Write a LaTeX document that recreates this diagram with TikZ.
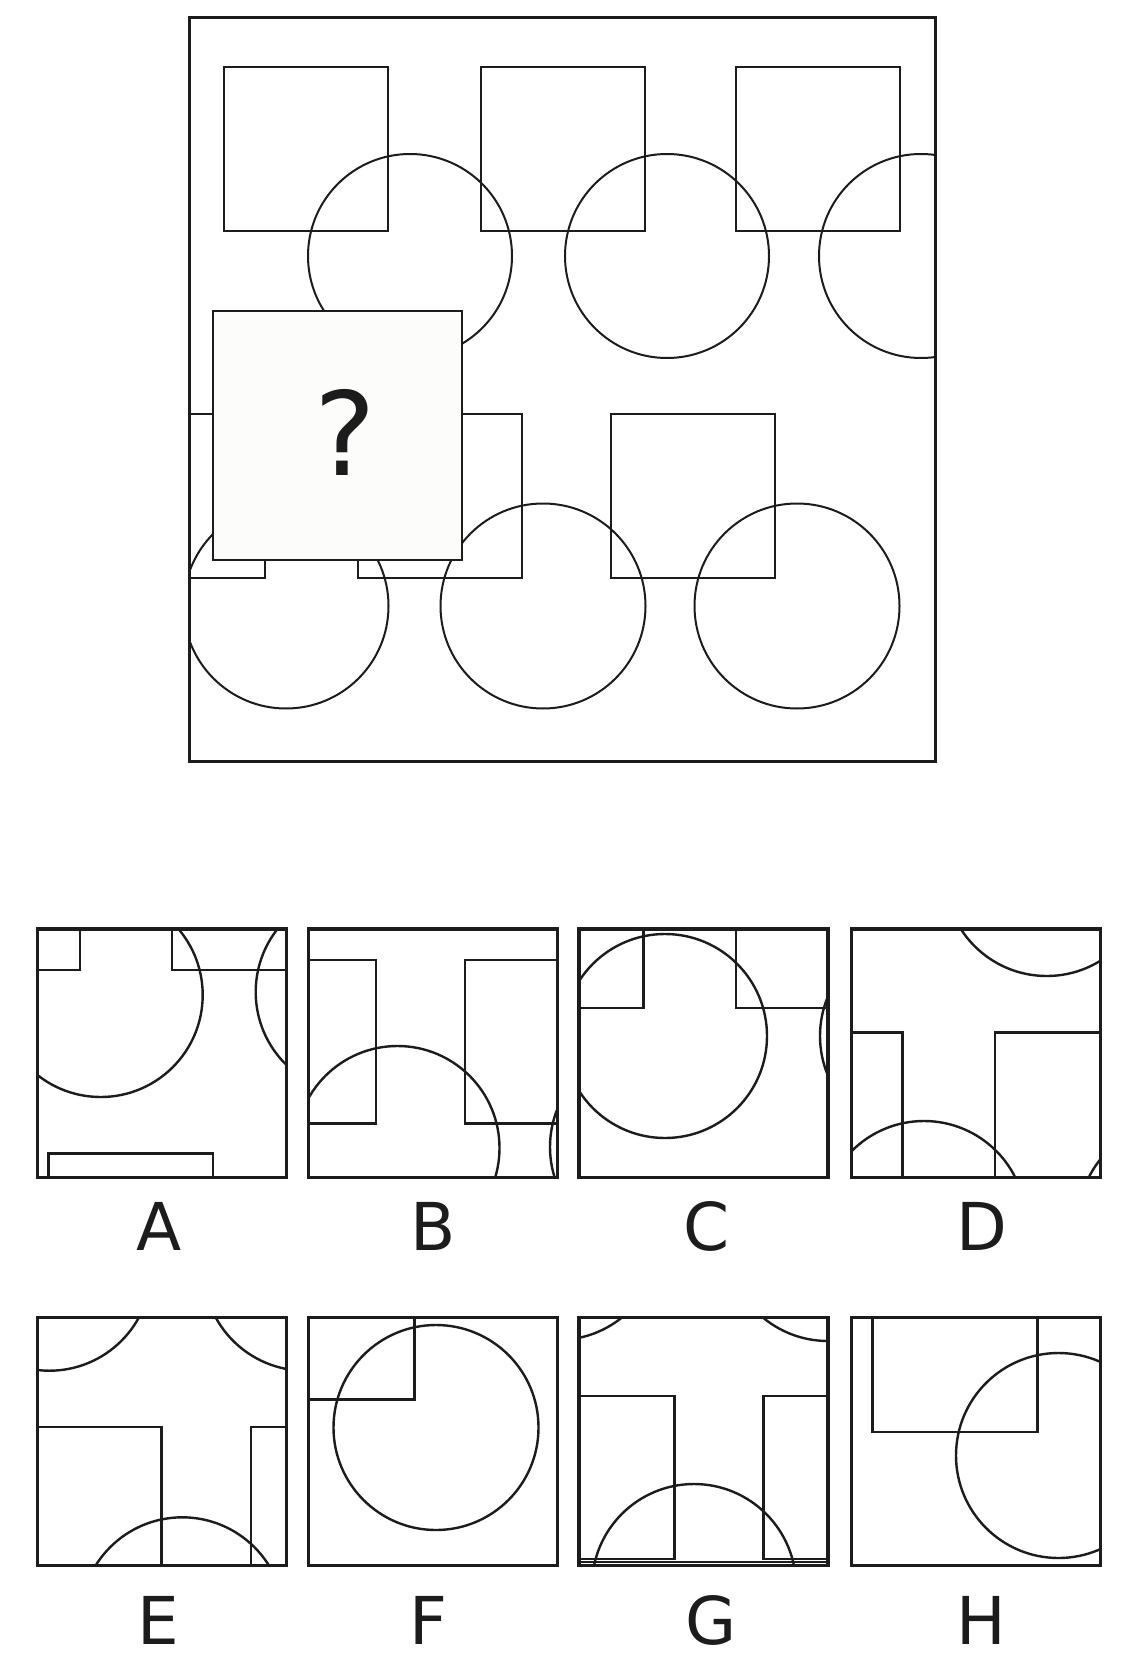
\documentclass[tikz,border=0pt]{standalone}
\usepackage{fontspec}
\setmainfont{DejaVu Sans}
\usetikzlibrary{positioning}
\definecolor{pzInk}{HTML}{1C1C1C}
\definecolor{pzCard}{HTML}{FCFCFA}
\tikzset{
  outerframe/.style = {pzInk, line width=1.5pt},
  optframe/.style   = {pzInk, line width=1.6pt},
  fig/.style        = {pzInk, line width=1pt},
  optfig/.style     = {pzInk, line width=1.2pt},
  qcard/.style      = {draw=pzInk, fill=pzCard, line width=1pt,
                       minimum width=124.8pt, minimum height=124.4pt, inner sep=0pt},
  qmark/.style      = {font=\fontsize{58}{60}\selectfont, pzInk, inner sep=0pt},
  optlbl/.style     = {font=\fontsize{33}{36}\selectfont, pzInk, inner sep=0pt},
}

\begin{document}
\begin{tikzpicture}[x=0.5pt, y=-0.5pt]
  \fill[white] (0,0) rectangle (1122,1658);

  % matrix: two rows of squares and circles
  \begin{scope}
    \clip (189,18) rectangle (935,761);
    \foreach \sx in {224,481,736}  \draw[fig] (\sx,67) rectangle ++(164,164);
    \foreach \cx in {410,667,921}  \draw[fig] (\cx,256) circle[radius=102];
    \foreach \sx in {101,357.5,611} \draw[fig] (\sx,414) rectangle ++(164,164);
    \foreach \cx in {286,543,797}  \draw[fig] (\cx,606) circle[radius=102.5];
  \end{scope}
  \draw[outerframe] (189,18) rectangle (935,761);
  \node[qcard] (qbox) at (337.6,435.7) {};
  \node[qmark] (qsign) at (345,432) {?};

  % A
  \begin{scope}
    \clip (37.5,929) rectangle (287,1177);
    \draw[optfig] (-84,806) rectangle (80,970);
    \draw[optfig] (172,806) rectangle (336,970);
    \draw[optfig] (100.7,995) circle[radius=102];
    \draw[optfig] (357.7,992) circle[radius=102];
    \draw[optfig] (48.3,1153.3) rectangle (212.7,1317.3);
  \end{scope}
  % B
  \begin{scope}
    \clip (308.3,929) rectangle (557,1177);
    \draw[optfig] (211.7,960) rectangle (375.7,1123.3);
    \draw[optfig] (465,960) rectangle (629,1123.3);
    \draw[optfig] (397.5,1148) circle[radius=102];
    \draw[optfig] (652,1147) circle[radius=102];
  \end{scope}
  % C
  \begin{scope}
    \clip (579,929) rectangle (827.5,1177);
    \draw[optfig] (479.3,843.7) rectangle (643.3,1007.7);
    \draw[optfig] (736,843.7) rectangle (900,1007.7);
    \draw[optfig] (665,1036) circle[radius=102];
    \draw[optfig] (922,1036) circle[radius=102];
  \end{scope}
  % D
  \begin{scope}
    \clip (851.5,929) rectangle (1099.5,1177);
    \draw[optfig] (1046.7,874) circle[radius=102];
    \draw[optfig] (738.3,1032.3) rectangle (902.3,1196.3);
    \draw[optfig] (995,1032.3) rectangle (1159,1196.3);
    \draw[optfig] (924,1223) circle[radius=102];
    \draw[optfig] (1180,1223) circle[radius=102];
  \end{scope}
  % E
  \begin{scope}
    \clip (37.5,1317.3) rectangle (287,1565.7);
    \draw[optfig] (49.3,1268.7) circle[radius=102];
    \draw[optfig] (305.3,1268.7) circle[radius=102];
    \draw[optfig] (-2.7,1427) rectangle (161.3,1591);
    \draw[optfig] (251,1427) rectangle (415,1591);
    \draw[optfig] (182.3,1619.3) circle[radius=102];
  \end{scope}
  % F
  \begin{scope}
    \clip (308.3,1317.3) rectangle (557,1565.7);
    \draw[optfig] (250.6,1235.3) rectangle (414.6,1399.3);
    \draw[optfig] (436,1427.5) circle[radius=102.5];
  \end{scope}
  % G
  \begin{scope}
    \clip (579,1317.3) rectangle (827.5,1565.7);
    \draw[optfig] (558,1238) circle[radius=102];
    \draw[optfig] (828,1239) circle[radius=102];
    \draw[optfig] (510.3,1395.7) rectangle (674.3,1559);
    \draw[optfig] (763.3,1395.7) rectangle (927.3,1559);
    \draw[optfig] (579,1562) -- (827.5,1562);
    \draw[optfig] (694,1586) circle[radius=102];
  \end{scope}
  % H
  \begin{scope}
    \clip (851.5,1317.3) rectangle (1099.5,1565.7);
    \draw[optfig] (872.3,1267.7) rectangle (1037.3,1431.7);
    \draw[optfig] (1058.5,1455.5) circle[radius=102.5];
  \end{scope}

  % option frames and letters
  \foreach \bx/\by in {37.5/929, 308.3/929, 579/929, 851.5/929,
                       37.5/1317.3, 308.3/1317.3, 579/1317.3, 851.5/1317.3}
    \draw[optframe] (\bx,\by) rectangle ++(249,248.4);
  \foreach \lab/\lx/\ly in {A/158.6/1226, B/433.6/1226, C/706.4/1226, D/981.4/1226,
                            E/158/1620, F/428.3/1620, G/710.6/1620, H/981.4/1620}
    \node[optlbl] (opt\lab) at (\lx,\ly) {\lab};
\end{tikzpicture}
\end{document}
